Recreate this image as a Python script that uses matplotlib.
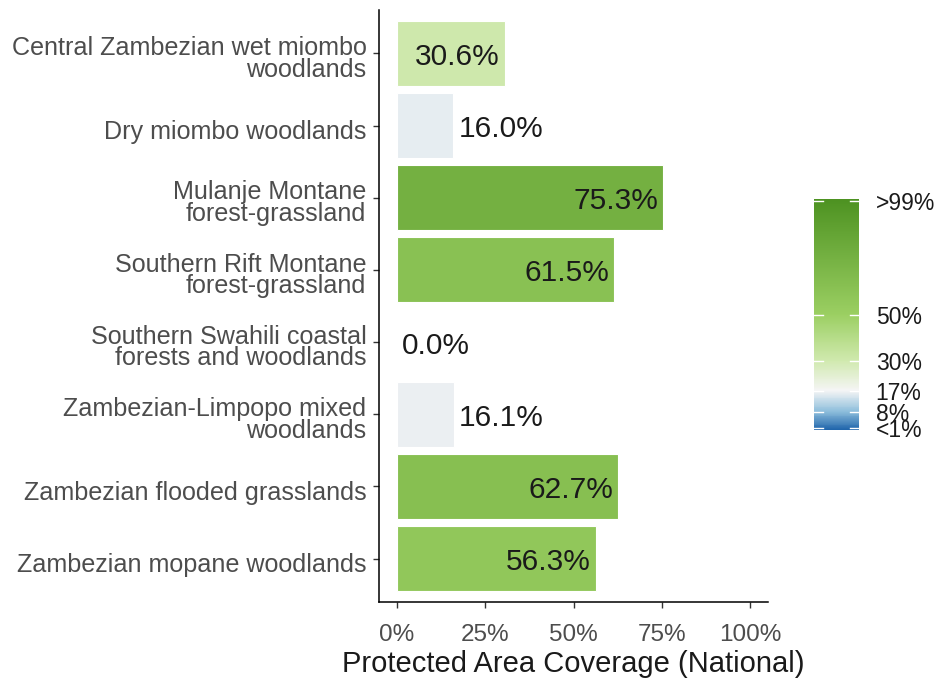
import numpy as np
import matplotlib
matplotlib.use('Agg')
import matplotlib.pyplot as plt
import matplotlib.transforms as mtransforms
from matplotlib.colors import LinearSegmentedColormap, Normalize
from matplotlib.cm import ScalarMappable

plt.rcParams['font.family'] = ['Liberation Sans', 'DejaVu Sans']

# データ（上から順）
ecoregions = ['Central Zambezian wet miombo\nwoodlands',
              'Dry miombo woodlands',
              'Mulanje Montane\nforest-grassland',
              'Southern Rift Montane\nforest-grassland',
              'Southern Swahili coastal\nforests and woodlands',
              'Zambezian-Limpopo mixed\nwoodlands',
              'Zambezian flooded grasslands',
              'Zambezian mopane woodlands']
coverage = [30.6, 16.0, 75.3, 61.5, 0.0, 16.1, 62.7, 56.3]

# カラースケール
scale_values = [0, 8, 17, 30, 50, 100]
scale_colors = ['#2166ac', '#8fbfdc', '#f5f5f5', '#d0e9ae', '#9bcf62', '#4d9221']
legend_ticks = [1, 8, 17, 30, 50, 99]
legend_labels = ['<1%', '8%', '17%', '30%', '50%', '>99%']
x_ticks = [0, 25, 50, 75, 100]

cmap = LinearSegmentedColormap.from_list(
    'pa', [(v / 100, c) for v, c in zip(scale_values, scale_colors)])
norm = Normalize(0, 100)

fig = plt.figure(figsize=(9.39, 6.81), dpi=100)
ax = fig.add_axes([379 / 939, 1 - 602 / 681, 389 / 939, 592 / 681])

y = np.arange(len(ecoregions))[::-1] + 1
ax.barh(y, coverage, height=0.9, color=cmap(norm(coverage)),
        edgecolor='white', linewidth=0.8)

for yi, v in zip(y, coverage):
    if v < 20:
        ax.annotate('%.1f%%' % v, (v, yi), xytext=(3.6, -2.5), textcoords='offset points',
                    ha='left', va='center', fontsize=21.5, color='#1a1a1a')
    else:
        ax.annotate('%.1f%%' % v, (v, yi), xytext=(-3.6, -2.5), textcoords='offset points',
                    ha='right', va='center', fontsize=21.5, color='#1a1a1a')

ax.set_xlim(-5, 105)
ax.set_ylim(0.4, len(ecoregions) + 0.6)
ax.set_yticks(y)
ax.set_yticklabels(ecoregions, linespacing=0.88)
ax.set_xticks(x_ticks)
ax.set_xticklabels(['%d%%' % t for t in x_ticks])
ax.tick_params(labelsize=17.5, labelcolor='#4d4d4d', color='#333333',
               length=4, width=1)
ax.tick_params(axis='y', labelsize=18.1, pad=5)
ax.tick_params(axis='x', pad=12)
# ラベルを少し下へ
shift = mtransforms.ScaledTranslation(0, -3 / 72, fig.dpi_scale_trans)
for lab in ax.get_yticklabels():
    lab.set_transform(lab.get_transform() + shift)
ax.set_xlabel('Protected Area Coverage (National)', fontsize=21, color='#1a1a1a',
              labelpad=3)
for s in ['top', 'right']:
    ax.spines[s].set_visible(False)
for s in ['left', 'bottom']:
    ax.spines[s].set_linewidth(1.1)

# 凡例（カラーバー）
cax = fig.add_axes([814 / 939, 1 - 430 / 681, 45 / 939, 231 / 681])
cb = fig.colorbar(ScalarMappable(norm=norm, cmap=cmap), cax=cax)
cb.outline.set_visible(False)
cb.set_ticks(legend_ticks)
cb.set_ticklabels(legend_labels)
cax.tick_params(length=0, pad=12, labelsize=16.5, labelcolor='#1a1a1a')
for t in legend_ticks:
    cax.plot([0, 0.2], [t, t], color='white', lw=1, transform=cax.get_yaxis_transform())
    cax.plot([0.8, 1], [t, t], color='white', lw=1, transform=cax.get_yaxis_transform())

fig.savefig('out.png', dpi=100)
